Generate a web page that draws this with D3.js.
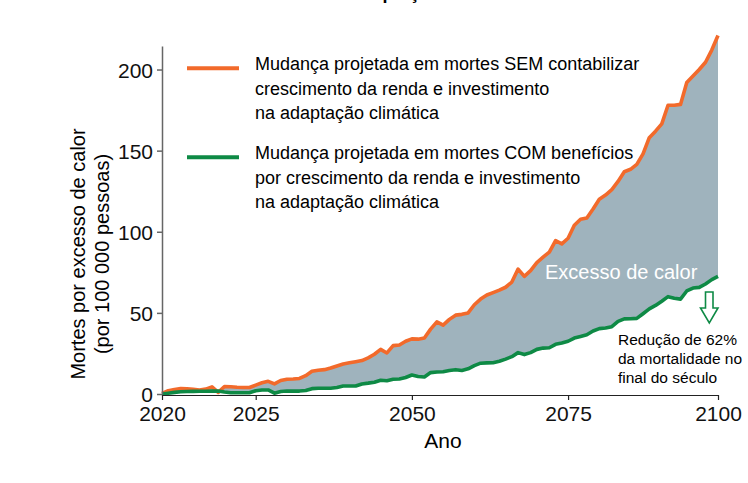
<!DOCTYPE html>
<html lang="pt">
<head>
    <meta charset="UTF-8">
    <title>Mortes por excesso de calor</title>
    <style>
        body { margin: 0; background: #fff; }
        svg { font-family: "Liberation Sans", Arial, sans-serif; }
        .axis text { font-size: 21px; fill: #111; }
        .axis-y path, .axis-y line { stroke: #666; stroke-width: 1.5; }
        .axis-x path, .axis-x line { stroke: #222; stroke-width: 1.2; }
    </style>
</head>
<body>
<div id="chart"></div>

<script src="https://cdnjs.cloudflare.com/ajax/libs/d3/7.8.5/d3.min.js"></script>
<script>
  // years of the projection (the axis labels the first tick as "2020")
  const years = d3.range(2010, 2100);

  // deaths per 100 000 without income growth / adaptation
  const semAdaptacao = [
    0.4, 2.0, 2.8, 3.3, 3.2, 2.9, 2.5, 3.0, 4.4, 1.0,
    4.6, 4.5, 4.2, 4.0, 4.0, 5.5, 6.9, 7.8, 6.2, 8.3,
    9.1, 9.2, 9.6, 11.3, 14.0, 14.6, 15.0, 16.0, 17.3, 18.5,
    19.2, 19.9, 20.6, 22.3, 24.5, 27.5, 25.3, 29.8, 30.2, 32.5,
    34.0, 33.8, 34.5, 40.0, 44.5, 42.5, 46.0, 48.6, 49.1, 50.0,
    55.0, 58.5, 61.0, 62.5, 64.0, 65.8, 69.0, 77.0, 72.5, 76.0,
    81.0, 84.3, 87.5, 94.5, 92.5, 96.0, 104.0, 107.7, 108.5, 114.0,
    120.0, 122.6, 126.0, 131.0, 137.0, 138.5, 141.5, 148.0, 158.0, 162.0,
    166.5, 178.0, 178.0, 178.5, 192.0, 196.0, 200.0, 204.5, 212.0, 221.0
  ];

  // deaths per 100 000 with income growth and adaptation benefits
  const comAdaptacao = [
    0.0, 0.5, 1.0, 1.4, 1.5, 1.6, 1.7, 1.7, 1.8, 1.8,
    1.2, 0.8, 0.8, 0.8, 0.8, 2.0, 2.5, 2.5, 0.5, 1.5,
    1.8, 1.8, 1.8, 2.2, 3.3, 3.5, 3.5, 3.5, 4.0, 4.9,
    4.9, 4.9, 6.2, 6.7, 7.3, 8.5, 8.2, 9.1, 9.2, 10.2,
    11.7, 10.8, 10.5, 13.2, 13.6, 13.7, 14.5, 15.0, 14.5, 15.5,
    17.5, 19.0, 19.2, 19.3, 20.2, 21.5, 23.0, 25.5, 24.3, 25.5,
    27.5, 28.3, 28.5, 30.6, 31.4, 32.5, 34.5, 35.5, 36.5, 38.8,
    40.3, 40.7, 41.5, 44.8, 46.3, 46.4, 46.6, 49.5, 52.5, 54.6,
    57.2, 60.0, 59.0, 58.5, 63.5, 65.3, 65.7, 67.8, 70.5, 72.5
  ];

  const xTickValues = [2010, 2025, 2050, 2075, 2099];
  const xTickLabels = ["2020", "2025", "2050", "2075", "2100"];
  const yTickValues = [0, 50, 100, 150, 200];

  const legendLabels = [
    ["Mudança projetada em mortes SEM contabilizar", "crescimento da renda e investimento", "na adaptação climática"],
    ["Mudança projetada em mortes COM benefícios", "por crescimento da renda e investimento", "na adaptação climática"]
  ];
  const noteLines = ["Redução de 62%", "da mortalidade no", "final do século"];

  const orange = "#f26a2b";
  const green = "#0e8a45";
  const fillColor = "#9fb3bd";

  const width = 748, height = 483;

  const svg = d3.select("#chart").append("svg")
    .attr("width", width)
    .attr("height", height);

  const x = d3.scaleLinear().domain([2010, 2099]).range([162, 718]);
  const y = d3.scaleLinear().domain([0, 214.5]).range([394, 46]);

  const data = years.map((yr, i) => ({ year: yr, sem: semAdaptacao[i], com: comAdaptacao[i] }));

  // title, almost entirely above the frame as in the original
  svg.append("text")
    .attr("x", 406).attr("y", -1)
    .attr("text-anchor", "middle")
    .style("font-size", "18px")
    .style("font-weight", "bold")
    .text("Efeito da adaptação nas mortes");

  // shaded gap between the two projections
  svg.append("path")
    .datum(data)
    .attr("fill", fillColor)
    .attr("d", d3.area()
      .x(d => x(d.year))
      .y0(d => y(d.com))
      .y1(d => y(d.sem)));

  const line = key => d3.line().x(d => x(d.year)).y(d => y(d[key]));

  svg.append("path")
    .datum(data)
    .attr("fill", "none")
    .attr("stroke", orange)
    .attr("stroke-width", 3.6)
    .attr("stroke-linejoin", "round")
    .attr("d", line("sem"));

  svg.append("path")
    .datum(data)
    .attr("fill", "none")
    .attr("stroke", green)
    .attr("stroke-width", 3.6)
    .attr("stroke-linejoin", "round")
    .attr("d", line("com"));

  // axes
  svg.append("g")
    .attr("class", "axis axis-y")
    .attr("transform", "translate(162,0)")
    .call(d3.axisLeft(y).tickValues(yTickValues).tickSize(5).tickSizeOuter(0).tickPadding(4))
    .call(g => g.selectAll("text").attr("dy", "0.36em"));

  svg.append("g")
    .attr("class", "axis axis-x")
    .attr("transform", "translate(0,395)")
    .call(d3.axisBottom(x).tickValues(xTickValues).tickSize(5).tickSizeOuter(0).tickPadding(6)
      .tickFormat((d, i) => xTickLabels[i]));

  svg.append("text")
    .attr("x", 443).attr("y", 448)
    .attr("text-anchor", "middle")
    .style("font-size", "21px")
    .text("Ano");

  const yTitle = svg.append("text")
    .attr("transform", "translate(85,254) rotate(-90)")
    .attr("text-anchor", "middle")
    .style("font-size", "20px");
  yTitle.append("tspan").attr("x", 0).attr("y", 0).text("Mortes por excesso de calor");
  yTitle.append("tspan").attr("x", 0).attr("y", 24).text("(por 100 000 pessoas)");

  // legend
  const legend = svg.append("g");
  [orange, green].forEach((c, i) => {
    const top = i === 0 ? 70 : 159;
    legend.append("line")
      .attr("x1", 187).attr("x2", 239)
      .attr("y1", top - 1.7).attr("y2", top - 1.7)
      .attr("stroke", c).attr("stroke-width", 4);
    legendLabels[i].forEach((t, j) => {
      legend.append("text")
        .attr("x", 255).attr("y", top + j * 24.5)
        .style("font-size", "18px")
        .text(t);
    });
  });

  // annotations
  svg.append("text")
    .attr("x", 545).attr("y", 279)
    .attr("fill", "#fff")
    .style("font-size", "20px")
    .text("Excesso de calor");

  const arrow = d3.path();
  arrow.moveTo(705.5, 292);
  arrow.lineTo(713, 292);
  arrow.lineTo(713, 308);
  arrow.lineTo(718, 308);
  arrow.lineTo(709.3, 323);
  arrow.lineTo(700.5, 308);
  arrow.lineTo(705.5, 308);
  arrow.closePath();
  svg.append("path")
    .attr("d", arrow.toString())
    .attr("fill", "#fff")
    .attr("stroke", green)
    .attr("stroke-width", 1.6);

  noteLines.forEach((t, i) => {
    svg.append("text")
      .attr("x", 618).attr("y", 345 + i * 19)
      .style("font-size", "15.5px")
      .text(t);
  });
</script>
</body>
</html>
